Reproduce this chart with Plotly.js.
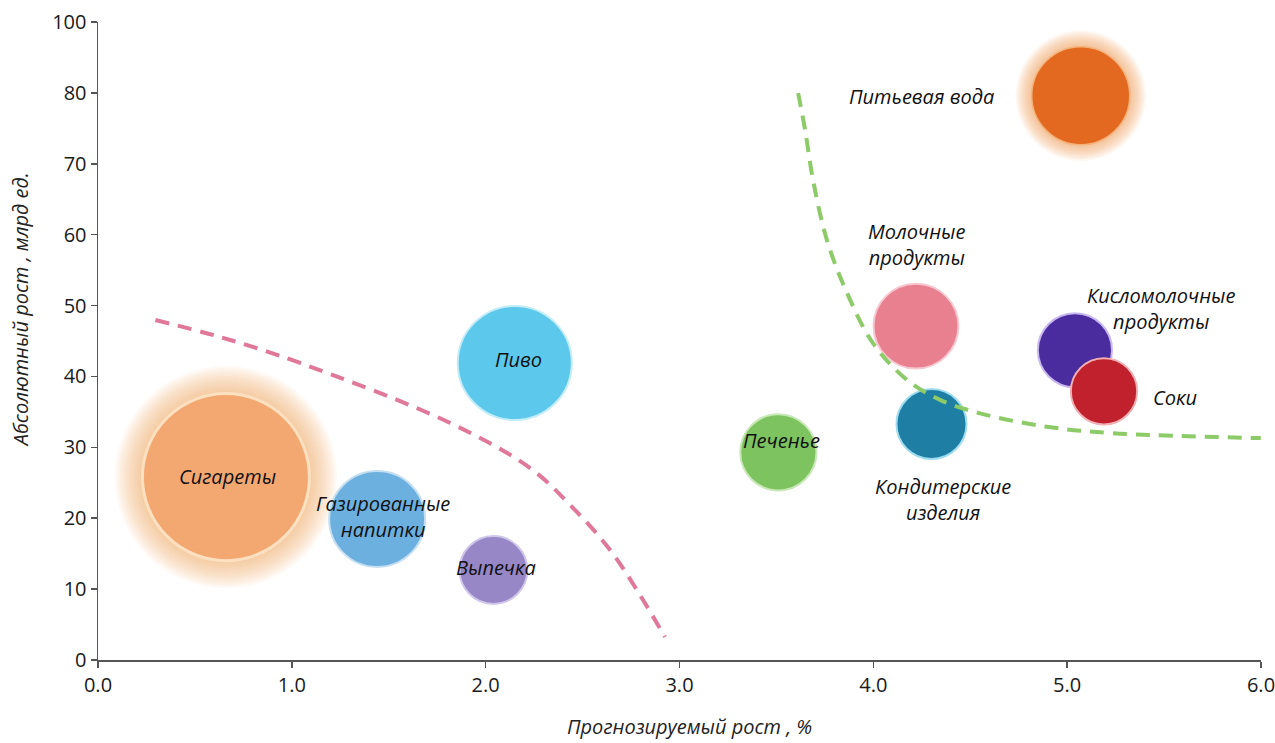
<!DOCTYPE html>
<html>
<head>
<meta charset="utf-8">
<script src="https://cdn.plot.ly/plotly-3.0.1.min.js"></script>
<style>html,body{margin:0;padding:0;background:#fff;}#chart{width:1275px;height:743px;}</style>
</head>
<body>
<div id="chart"></div>
<script>
// ---- data ----
const categories = ["Сигареты","Газированные<br>напитки","Выпечка","Пиво","Печенье","Молочные<br>продукты","Кондитерские<br>изделия","Питьевая вода","Кисломолочные<br>продукты","Соки"];
const growthPct  = [0.66, 1.44, 2.04, 2.15, 3.51, 4.22, 4.30, 5.07, 5.04, 5.19];
const absGrowth  = [25.8, 19.9, 12.7, 41.9, 29.3, 47.1, 33.3, 79.6, 43.7, 37.9];
const volume     = [279, 92, 46, 130, 58, 72, 49, 96, 55, 44];

const pinkCurveX = [0.296, 0.631, 1.043, 1.817, 2.229, 2.436, 2.642, 2.796, 2.925];
const pinkCurveY = [47.96, 45.56, 41.90, 33.43, 27.08, 21.86, 15.52, 9.17, 3.24];
const greenCurveX = [3.612, 3.648, 3.689, 3.761, 3.864, 3.998, 4.174, 4.344, 4.550, 4.896, 5.236, 5.999];
const greenCurveY = [79.98, 74.76, 67.7, 59.2, 51.8, 44.7, 39.5, 36.7, 34.8, 32.9, 32.0, 31.3];

const xTickVals = [0,1,2,3,4,5,6];
const xTickText = ["0.0","1.0","2.0","3.0","4.0","5.0","6.0"];
const yTickVals = [0,10,20,30,40,50,60,70,80,90];
const yTickText = ["0","10","20","30","40","50","60","70","80","100"];

// ---- styles ----
const fillColors = ["#f3a872","#6cb0e0","#9787c6","#5cc8ec","#7dc35f","#e9808f","#1e7ea3","#e2691f","#4b2c9f","#c0212c"];
const edgeColors = ["#fde0c0","#c4def2","#cfc6ea","#c2ecf8","#c8e8b8","#f7c8cf","#9fdcf0","#f5b27a","#c9b8f0","#f3b0b4"];
const edgeWidths = [3,2,2,2,2,2,2,1.5,2,2];
const glowColor  = {"Сигареты":"rgba(247,165,100,0.1)","Питьевая вода":"rgba(247,150,80,0.1)"};
const labelShift = [[2,1],[6,2],[3,2],[4,3],[3,12],[1,82],[12,-76],[-159,-1],[86,42],[71,-6]];
const SIZEREF = 0.02;

const traces = [];
// glow halos
const glowFactors = [1.33,1.30,1.27,1.24,1.21,1.18,1.15,1.12,1.09,1.06,1.03];
glowFactors.forEach(f => {
  const gx=[],gy=[],gs=[],gc=[];
  categories.forEach((c,i)=>{
    if (glowColor[c]) { gx.push(growthPct[i]); gy.push(absGrowth[i]); gs.push(volume[i]*f*f); gc.push(glowColor[c]); }
  });
  traces.push({type:'scatter',mode:'markers',x:gx,y:gy,hoverinfo:'skip',showlegend:false,
    marker:{size:gs,sizemode:'area',sizeref:SIZEREF,color:gc,line:{width:0}}});
});
// bubbles
traces.push({type:'scatter',mode:'markers',x:growthPct,y:absGrowth,text:categories,showlegend:false,
  marker:{size:volume,sizemode:'area',sizeref:SIZEREF,color:fillColors,opacity:1,
    line:{color:edgeColors,width:edgeWidths}}});
// curves
traces.push({type:'scatter',mode:'lines',x:pinkCurveX,y:pinkCurveY,line:{color:'#e0789a',width:4,dash:'14px,9px',shape:'spline'},showlegend:false,hoverinfo:'skip'});
traces.push({type:'scatter',mode:'lines',x:greenCurveX,y:greenCurveY,line:{color:'#8dcb68',width:4,dash:'14px,9px',shape:'spline'},showlegend:false,hoverinfo:'skip'});

const labelFont = {family:'"Open Sans", sans-serif', size:20, color:'#111', style:'italic'};
const annotations = categories.map((c,i)=>({
  x:growthPct[i], y:absGrowth[i], xref:'x', yref:'y', text:c, showarrow:false,
  xshift:labelShift[i][0], yshift:labelShift[i][1], font:labelFont, align:'center'
}));
annotations.push({xref:'paper',yref:'paper',x:0.509,y:-0.105,text:'Прогнозируемый рост , %',showarrow:false,borderpad:0,
  xanchor:'center',yanchor:'middle',font:{family:'"Open Sans", sans-serif',size:20,color:'#222',style:'italic'}});
annotations.push({xref:'paper',yref:'paper',x:-0.066,y:0.5486,text:'Абсолютный рост , млрд ед.',showarrow:false,textangle:-90,
  xanchor:'center',yanchor:'middle',font:{family:'"Open Sans", sans-serif',size:20,color:'#222',style:'italic'}});

const axisCommon = {showline:true,linecolor:'#555',linewidth:1.5,ticks:'outside',ticklen:6,tickcolor:'#555',tickwidth:1.5,
  showgrid:false,zeroline:false,ticklabeloverflow:'allow',tickfont:{family:'"Open Sans", sans-serif',size:20,color:'#1a1a1a'},fixedrange:true};

const layout = {
  width:1275,height:743,margin:{l:98,r:14,t:22,b:83},
  paper_bgcolor:'#ffffff',plot_bgcolor:'#ffffff',
  xaxis:Object.assign({},axisCommon,{range:[0,6],tickmode:'array',tickvals:xTickVals,ticktext:xTickText}),
  yaxis:Object.assign({},axisCommon,{range:[0,90],tickmode:'array',tickvals:yTickVals,ticktext:yTickText}),
  annotations:annotations,showlegend:false
};
Plotly.newPlot('chart',traces,layout,{displayModeBar:false,staticPlot:true});
</script>
</body>
</html>
